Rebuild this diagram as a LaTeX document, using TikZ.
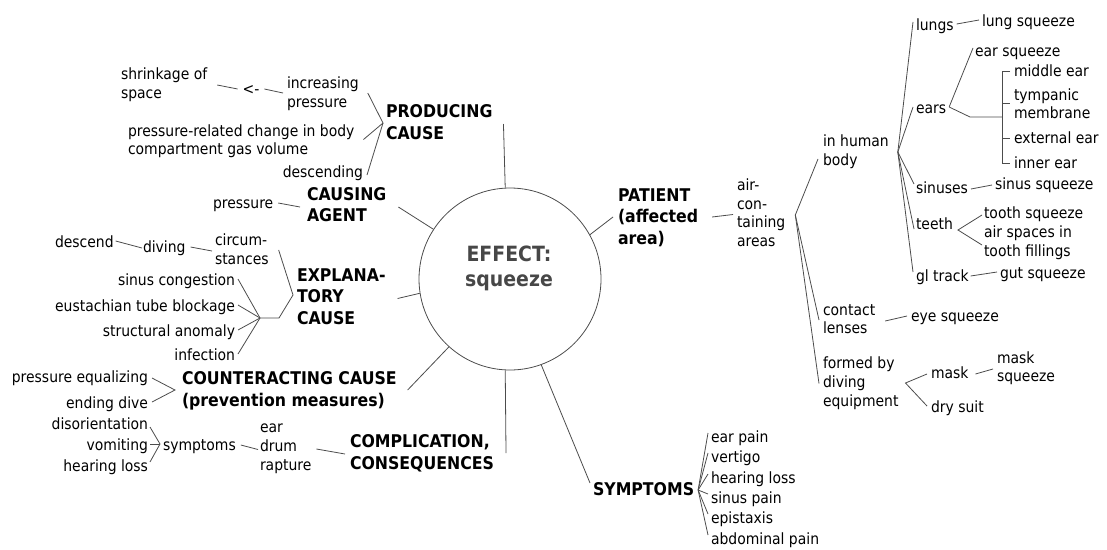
\documentclass[tikz,border=0pt]{standalone}
\usepackage{fontspec}
\setmainfont{DejaVu Sans}[FakeStretch=0.9]
\usetikzlibrary{calc}
\newcommand\smstrut{\rule[-3.6pt]{0pt}{18.7pt}}
\newcommand\bgstrut{\rule[-4pt]{0pt}{21.5pt}}
\tikzset{
  conn/.style={draw=black!70, line width=0.8pt},
  txt/.style={inner sep=0pt, outer sep=0pt, align=left, font=\fontsize{15.5}{18.7}\selectfont,
    execute at begin node=\smstrut, execute at end node=\smstrut},
  big/.style={inner sep=0pt, outer sep=0pt, align=left, font=\fontsize{17.5}{21.5}\selectfont\bfseries,
    execute at begin node=\bgstrut, execute at end node=\bgstrut},
}
\begin{document}
\begin{tikzpicture}[x=1pt,y=-1pt]
\useasboundingbox (0,0) rectangle (1107,549);
% centre
\node[circle, draw=black!70, line width=0.8pt, minimum size=182pt, inner sep=0pt] (effect) at (510,279) {};
\node[align=center, inner sep=0pt, font=\fontsize{21}{25}\selectfont\bfseries, text=black!72] (efftxt) at (509,268) {EFFECT:\\squeeze};
% main labels
\node[big, anchor=west] (prodcause) at (386,124) {PRODUCING\\CAUSE};
\node[big, anchor=west] (causagent) at (307,206.5) {CAUSING\\AGENT};
\node[big, anchor=west] (explcause) at (297,298.5) {EXPLANA-\\TORY\\CAUSE};
\node[big, anchor=west] (countcause) at (182,391) {COUNTERACTING CAUSE\\(prevention measures)};
\node[big, anchor=west] (complic) at (350,454) {COMPLICATION,\\CONSEQUENCES};
\node[big, anchor=west] (sympt) at (593,489) {SYMPTOMS};
\node[big, anchor=west] (patient) at (618,218.5) {PATIENT\\(affected\\area)};
% spokes
\draw[conn] (effect.93) -- ($(prodcause.east)+(11,0)$);
\draw[conn] (effect.147.5) -- ($(causagent.east)+(12,0.5)$);
\draw[conn] (effect.189.4) -- ($(explcause.east)+(12,0)$);
\draw[conn] (effect.228) -- ($(countcause.east)+(11,-1)$);
\draw[conn] (effect.267.5) -- ($(complic.east)+(12,-1)$);
\draw[conn] (effect.290.8) -- ($(sympt.west)+(-3,-6)$);
\draw[conn] (effect.29.9) -- ($(patient.west)+(-5,-1.5)$);
% producing cause
\node[txt, anchor=west] (shrink) at (121,85) {shrinkage of\\space};
\node[txt] (arrowtxt) at (251,89) {<-};
\node[txt, anchor=west] (incpress) at (287,94) {increasing\\pressure};
\node[txt, anchor=west] (prc) at (128,141.5) {pressure-related change in body\\compartment gas volume};
\node[txt, anchor=east] (descending) at (363,172) {descending};
\coordinate (pcv) at ($(prodcause.west)+(-3,-1)$);
\draw[conn] ($(shrink.east)+(10,0)$) -- ($(arrowtxt.west)+(-5,0)$);
\draw[conn] ($(arrowtxt.east)+(5,0)$) -- ($(incpress.west)+(-4,-1)$);
\draw[conn] ($(incpress.east)+(9,-1)$) -- (pcv) -- ($(prc.east)+(9,-2)$);
\draw[conn] (pcv) -- ($(descending.east)+(4,3)$);
% causing agent
\node[txt, anchor=west] (press1) at (213,203) {pressure};
\draw[conn] ($(press1.east)+(5,0)$) -- ($(causagent.west)+(-7,0.5)$);
% explanatory cause
\node[txt, anchor=west] (descend) at (55,242) {descend};
\node[txt, anchor=west] (diving) at (143,247) {diving};
\node[txt, anchor=west] (circ) at (215,251) {circum-\\stances};
\draw[conn] ($(descend.east)+(2,-1)$) -- ($(diving.west)+(-1,1)$);
\draw[conn] ($(diving.east)+(5,0)$) -- ($(circ.west)+(-3,0)$);
\coordinate (ev1) at ($(explcause.west)+(-4,-3.5)$);
\coordinate (ev3) at (279,318);
\coordinate (ev2) at (260,318);
\draw[conn] ($(circ.east)+(10,-1)$) -- (ev1) -- (ev3) -- (ev2);
\node[txt, anchor=east] (sinc) at (235,280) {sinus congestion};
\node[txt, anchor=east] (eust) at (235,306) {eustachian tube blockage};
\node[txt, anchor=east] (struct) at (235,331) {structural anomaly};
\node[txt, anchor=east] (infect) at (235,355) {infection};
\foreach \n in {sinc,eust,struct,infect} \draw[conn] ($(\n.east)+(3,-1)$) -- (ev2);
% counteracting cause
\node[txt, anchor=east] (peq) at (148,377) {pressure equalizing};
\node[txt, anchor=east] (enddive) at (148,403) {ending dive};
\coordinate (cv) at ($(countcause.west)+(-7,-1)$);
\draw[conn] ($(peq.east)+(4,1)$) -- (cv) -- ($(enddive.east)+(4,-1)$);
% complications
\node[txt, anchor=east] (disor) at (148,424) {disorientation};
\node[txt, anchor=east] (vomit) at (148,445) {vomiting};
\node[txt, anchor=east] (hearl) at (148,466) {hearing loss};
\node[txt, anchor=west] (sympt2) at (163,445) {symptoms};
\coordinate (sv) at ($(sympt2.west)+(-3,-1)$);
\draw[conn] ($(disor.east)+(2,3)$) -- (sv);
\draw[conn] ($(vomit.east)+(2,-1)$) -- (sv);
\draw[conn] ($(hearl.east)+(2,-4)$) -- (sv);
\node[txt, anchor=west] (eardrum) at (260,449) {ear\\drum\\rapture};
\draw[conn] ($(sympt2.east)+(5,0)$) -- ($(eardrum.west)+(-2,0.5)$);
\draw[conn] ($(eardrum.east)+(5,0)$) -- ($(complic.west)+(-5,0)$);
% symptoms
\coordinate (symv) at ($(sympt.east)+(4,1)$);
\foreach \n/\y/\t in {s1/437/ear pain, s2/457/vertigo, s3/478/hearing loss, s4/498/sinus pain, s5/518/epistaxis, s6/539/abdominal pain}{
  \node[txt, anchor=west] (\n) at (711,\y) {\t};
  \draw[conn] (symv) -- ($(\n.west)+(-3,-4)$);
}
% patient
\node[txt, anchor=west] (aircont) at (737,214.5) {air-\\con-\\taining\\areas};
\draw[conn] ($(patient.east)+(14,-1.5)$) -- ($(aircont.west)+(-4,0)$);
\coordinate (av) at ($(aircont.east)+(10,0.5)$);
\node[txt, anchor=west] (humanbody) at (823,152) {in human\\body};
\node[txt, anchor=west] (contact) at (823,321) {contact\\lenses};
\node[txt, anchor=west] (formed) at (823,383.5) {formed by\\diving\\equipment};
\draw[conn] (av) -- ($(humanbody.west)+(-5,7)$);
\draw[conn] (av) -- ($(contact.west)+(-4,-1)$);
\draw[conn] (av) -- ($(formed.west)+(-4,0)$);
\node[txt, anchor=west] (eyesq) at (911,316) {eye squeeze};
\draw[conn] ($(contact.east)+(10,0)$) -- ($(eyesq.west)+(-4,0)$);
\coordinate (fv) at ($(formed.east)+(7,-0.5)$);
\node[txt, anchor=west] (mask) at (931,373) {mask};
\node[txt, anchor=west] (drysuit) at (931,407) {dry suit};
\draw[conn] ($(mask.west)+(-4,1)$) -- (fv) -- ($(drysuit.west)+(-4,-1)$);
\node[txt, anchor=west] (masksq) at (997,368.5) {mask\\squeeze};
\draw[conn] ($(mask.east)+(7,1)$) -- ($(masksq.west)+(-4,0.5)$);
% human body
\coordinate (hv) at ($(humanbody.east)+(9,0)$);
\node[txt, anchor=west] (lungs) at (916,25) {lungs};
\node[txt, anchor=west] (ears) at (916,108) {ears};
\node[txt, anchor=west] (sinuses) at (916,188) {sinuses};
\node[txt, anchor=west] (teeth) at (916,224) {teeth};
\node[txt, anchor=west] (gltrack) at (916,276) {gl track};
\draw[conn] (hv) -- ($(lungs.west)+(-3,-3)$);
\draw[conn] (hv) -- ($(ears.west)+(-3,-1)$);
\draw[conn] (hv) -- ($(sinuses.west)+(-2,-4)$);
\draw[conn] (hv) -- ($(teeth.west)+(-2,5)$);
\draw[conn] (hv) -- ($(gltrack.west)+(-3,-4)$);
\node[txt, anchor=west] (lungsq) at (982,21) {lung squeeze};
\draw[conn] ($(lungs.east)+(3,-1)$) -- ($(lungsq.west)+(-3,-1)$);
\coordinate (earv) at ($(ears.east)+(3,-1)$);
\node[txt, anchor=west] (earsq) at (975,51) {ear squeeze};
\draw[conn] (earv) -- ($(earsq.west)+(-2,-3)$);
\node[txt, anchor=west] (middleear) at (1014,71) {middle ear};
\node[txt, anchor=west] (tymp) at (1014,105.5) {tympanic\\membrane};
\node[txt, anchor=west] (extear) at (1014,138) {external ear};
\node[txt, anchor=west] (innerear) at (1014,163) {inner ear};
\coordinate (earj) at (970,117);
\coordinate (brk) at (1002,117);
\coordinate (brtop) at (1002,71);
\coordinate (brbot) at (1002,163);
\draw[conn] (earv) -- (earj) -- (brk);
\draw[conn] ($(middleear.west)+(-4,0)$) -- (brtop) -- (brbot) -- ($(innerear.west)+(-4,0)$);
\draw[conn] (1002,103) -- ($(tymp.west)+(-4,-2.5)$);
\draw[conn] (1002,138) -- ($(extear.west)+(-4,0)$);
\node[txt, anchor=west] (sinussq) at (995,184) {sinus squeeze};
\draw[conn] ($(sinuses.east)+(3,1)$) -- ($(sinussq.west)+(-3,1)$);
\coordinate (tv) at ($(teeth.east)+(5,6)$);
\node[txt, anchor=west] (toothsq) at (984,213) {tooth squeeze};
\node[txt, anchor=west] (airsp) at (984,243) {air spaces in\\tooth fillings};
\draw[conn] ($(toothsq.west)+(-2,2)$) -- (tv) -- ($(airsp.west)+(-2,2)$);
\node[txt, anchor=west] (gutsq) at (1000,273) {gut squeeze};
\draw[conn] ($(gltrack.east)+(2,0)$) -- ($(gutsq.west)+(-3,-1)$);
\end{tikzpicture}
\end{document}
